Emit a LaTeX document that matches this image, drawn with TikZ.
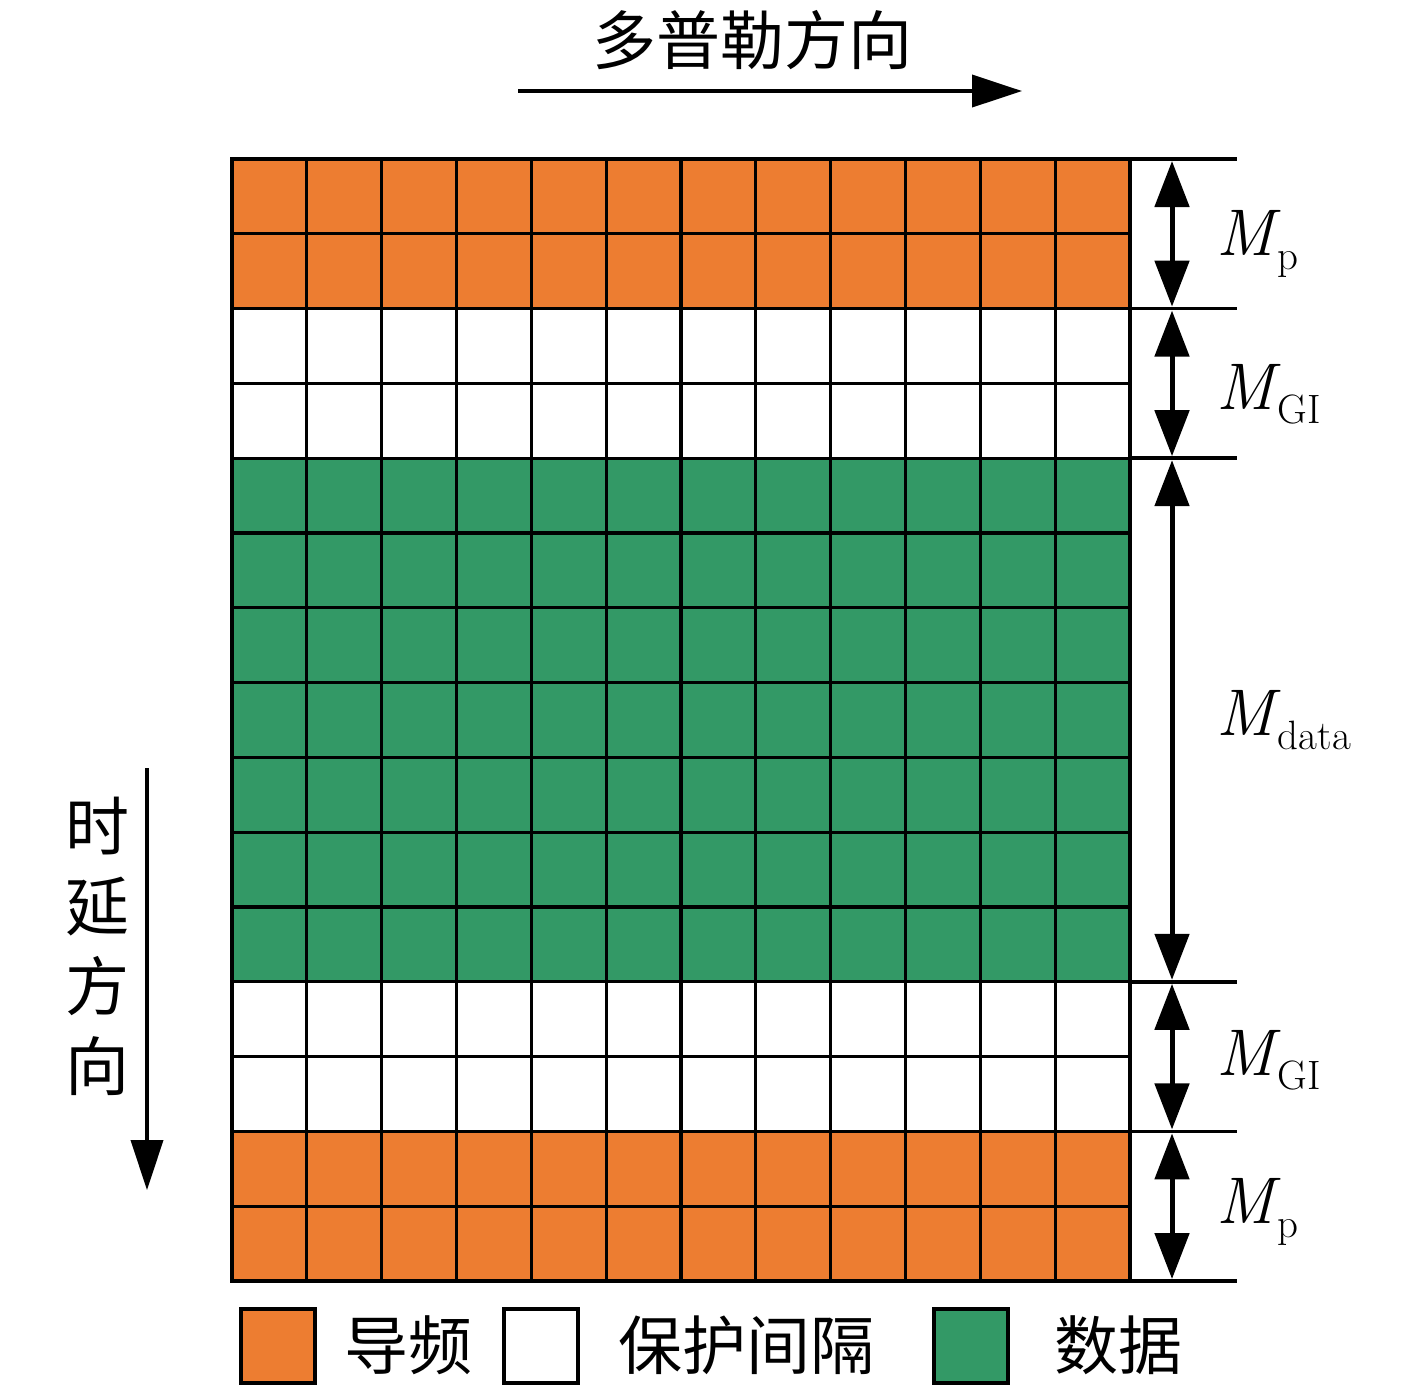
\documentclass[tikz,border=0pt]{standalone}
\usepackage{fontspec}
\newfontfamily\cjk{Noto Sans CJK SC}
\usetikzlibrary{arrows.meta}
\definecolor{pilot}{RGB}{237,125,49}
\definecolor{datag}{RGB}{51,153,102}
\newcommand{\msymb}[1]{\textit{M}\kern-1.5pt\raisebox{-7pt}{\fontsize{20.5}{23}\selectfont #1}}
\tikzset{
  cell/.style={draw=black, line width=1.6pt},
  extline/.style={draw=black, line width=1.8pt},
  dimarrow/.style={line width=2.5pt, {Triangle[length=23pt,width=17pt]}-{Triangle[length=23pt,width=17pt]}, shorten <=1pt, shorten >=1pt},
  dirarrow/.style={line width=2pt, -{Triangle[length=25pt,width=16pt]}},
  mlabel/.style={anchor=west, inner sep=0pt, font=\fontsize{33}{40}\selectfont},
  cjktext/.style={inner sep=0pt, font=\fontsize{32}{40}\selectfont\cjk},
  legbox/.style={draw=black, line width=2pt, minimum width=37pt, minimum height=37pt, inner sep=0pt}
}
\begin{document}
\begin{tikzpicture}[x=0.5pt,y=-0.5pt]
\useasboundingbox (0,0) rectangle (1417,1394);
% grid
\foreach \j/\c in {0/pilot,1/pilot,2/white,3/white,4/datag,5/datag,6/datag,7/datag,8/datag,9/datag,10/datag,11/white,12/white,13/pilot,14/pilot}{
  \foreach \i in {0,...,11}{
    \draw[cell, fill=\c] ({232+\i*74.833},{159+\j*74.8}) rectangle ++(74.833,74.8);
  }
}
% extension lines and dimension coordinates
\foreach \n/\y in {0/159,1/308.6,2/458.2,3/981.8,4/1131.4,5/1281}{
  \coordinate (x\n) at (1130,\y);
  \coordinate (y\n) at (1237,\y);
  \coordinate (d\n) at (1172,\y);
  \draw[extline] (x\n) -- (y\n);
}
\draw[dimarrow] (d0) -- (d1);
\draw[dimarrow] (d1) -- (d2);
\draw[dimarrow] (d2) -- (d3);
\draw[dimarrow] (d3) -- (d4);
\draw[dimarrow] (d4) -- (d5);
\node[mlabel] (lp1) at (1216,244) {\msymb{p}};
\node[mlabel] (lg1) at (1216,394) {\msymb{GI}};
\node[mlabel] (ld) at (1216,720) {\msymb{data}};
\node[mlabel] (lg2) at (1216,1060) {\msymb{GI}};
\node[mlabel] (lp2) at (1216,1212) {\msymb{p}};
% direction arrows
\coordinate (ts) at (518,91);
\coordinate (te) at (1022,91);
\draw[dirarrow] (ts) -- (te);
\node[cjktext] (tt) at (752,40) {多普勒方向};
\coordinate (ls) at (147,768);
\coordinate (le) at (147,1190);
\draw[dirarrow] (ls) -- (le);
\node[cjktext, align=center] (lt) at (97,946) {时\\延\\方\\向};
% legend
\node[legbox, fill=pilot] (k1) at (277.5,1345.5) {};
\node[cjktext] (t1) at (408,1345) {导频};
\node[legbox, fill=white] (k2) at (540.5,1345.5) {};
\node[cjktext] (t2) at (746,1345) {保护间隔};
\node[legbox, fill=datag] (k3) at (970.5,1345.5) {};
\node[cjktext] (t3) at (1118,1345) {数据};
\end{tikzpicture}
\end{document}
